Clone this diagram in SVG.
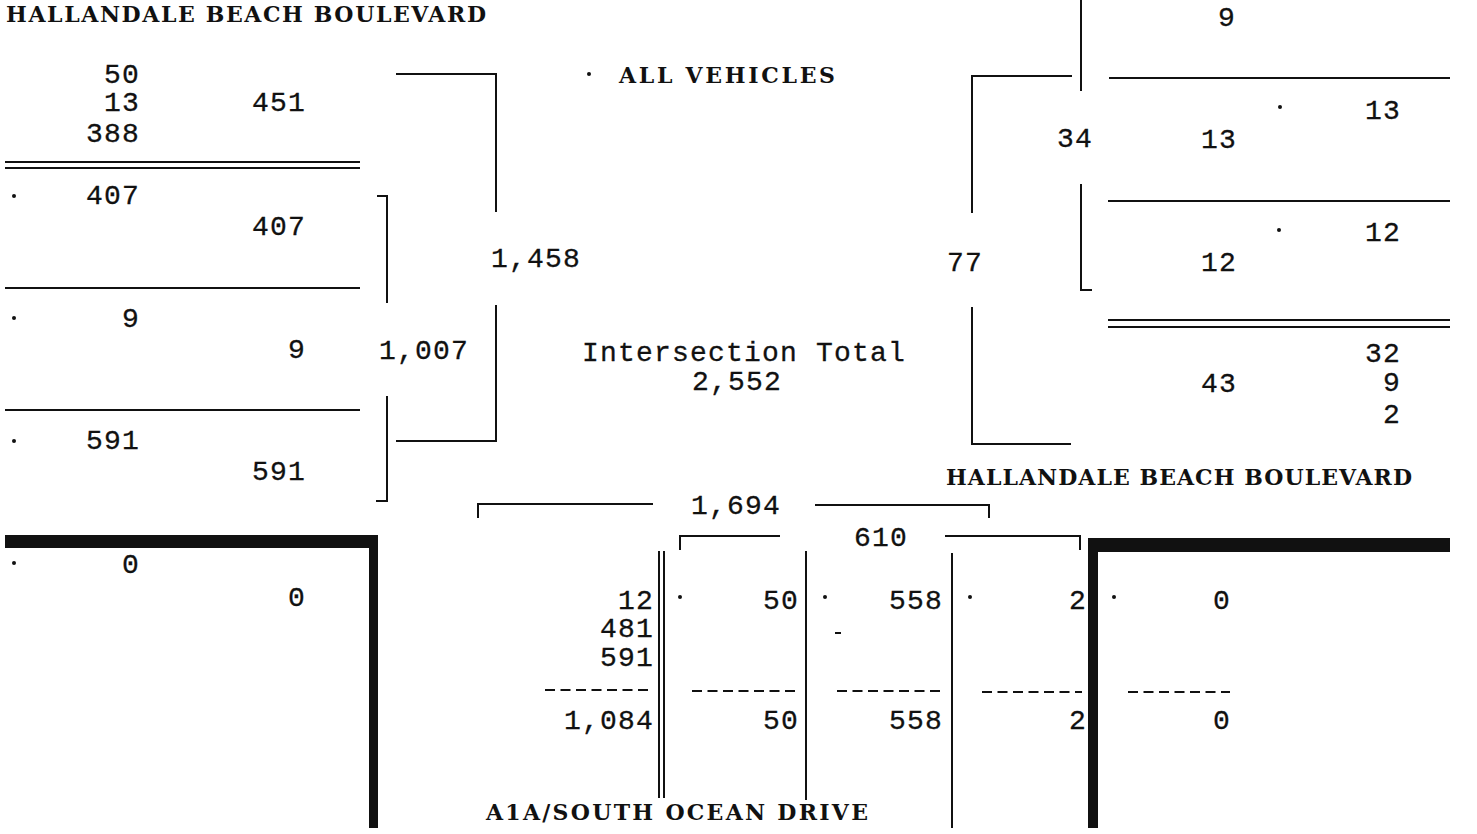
<svg xmlns="http://www.w3.org/2000/svg" width="1477" height="834" viewBox="0 0 1477 834">
<style>
.n{font-family:"Liberation Mono",monospace;font-size:28px;letter-spacing:1.2px;fill:#111;stroke:#111;stroke-width:0.3;text-anchor:end}
.c{font-family:"Liberation Mono",monospace;font-size:28px;letter-spacing:1.2px;fill:#111;stroke:#111;stroke-width:0.3;text-anchor:middle}
.t{font-family:"DejaVu Serif",serif;font-size:22px;font-weight:bold;fill:#111}
.l{fill:none;stroke:#111;stroke-width:2}
.dash{fill:none;stroke:#111;stroke-width:2;stroke-dasharray:10 5.5}
.dot{fill:#111}
.bar{fill:#111}
</style>
<rect width="1477" height="834" fill="#fff"/>
<g id="connectors">
<line class="l" x1="5" y1="162" x2="360" y2="162"/>
<line class="l" x1="5" y1="168" x2="360" y2="168"/>
<line class="l" x1="5" y1="288" x2="360" y2="288"/>
<line class="l" x1="5" y1="410" x2="360" y2="410"/>
<path class="l" d="M377 196H387V303M387 396V501H376"/>
<path class="l" d="M396 74H496V212M496 305V441H396"/>
<rect class="bar" x="5" y="535" width="372" height="13"/>
<rect class="bar" x="369" y="535" width="9" height="293"/>
<path class="l" d="M1081 0V91M1081 184V290H1092"/>
<path class="l" d="M1072 76H972V213M972 307V444H1071"/>
<line class="l" x1="1109" y1="78" x2="1450" y2="78"/>
<line class="l" x1="1108" y1="201" x2="1450" y2="201"/>
<line class="l" x1="1108" y1="320" x2="1450" y2="320"/>
<line class="l" x1="1108" y1="327" x2="1450" y2="327"/>
<rect class="bar" x="1088" y="538" width="362" height="14"/>
<rect class="bar" x="1088" y="538" width="10" height="290"/>
<path class="l" d="M478 518V504H653M815 505H989V518"/>
<path class="l" d="M680 550V536H780M945 536H1080V550"/>
<line class="l" x1="659" y1="551" x2="659" y2="798"/>
<line class="l" x1="664" y1="551" x2="664" y2="798"/>
<line class="l" x1="806" y1="551" x2="806" y2="800"/>
<line class="l" x1="952" y1="553" x2="952" y2="828"/>
<line class="dash" x1="545" y1="690" x2="650" y2="690"/>
<line class="dash" x1="692" y1="691" x2="797" y2="691"/>
<line class="dash" x1="837" y1="691" x2="942" y2="691"/>
<line class="dash" x1="982" y1="692" x2="1082" y2="692"/>
<line class="dash" x1="1128" y1="692" x2="1230" y2="692"/>
<line class="l" x1="835" y1="633" x2="841" y2="633"/>
</g>
<g id="title-west">
<text class="t" x="6" y="22" textLength="480" lengthAdjust="spacing">HALLANDALE BEACH BOULEVARD</text>
</g>
<g id="title-all-vehicles">
<circle class="dot" cx="589" cy="74" r="2"/>
<text class="t" x="619" y="83" textLength="216" lengthAdjust="spacing">ALL VEHICLES</text>
</g>
<g id="title-east">
<text class="t" x="946" y="485" textLength="466" lengthAdjust="spacing">HALLANDALE BEACH BOULEVARD</text>
</g>
<g id="title-south">
<text class="t" x="486" y="820" textLength="382" lengthAdjust="spacing">A1A/SOUTH OCEAN DRIVE</text>
</g>
<g id="west-approach">
<text class="n" x="140" y="83">50</text>
<text class="n" x="140" y="111">13</text>
<text class="n" x="140" y="142">388</text>
<text class="n" x="306" y="111">451</text>
<circle class="dot" cx="14" cy="196" r="2"/>
<text class="n" x="140" y="204">407</text>
<text class="n" x="306" y="235">407</text>
<circle class="dot" cx="14" cy="318" r="2"/>
<text class="n" x="140" y="327">9</text>
<text class="n" x="306" y="358">9</text>
<text class="n" x="469" y="359">1,007</text>
<circle class="dot" cx="14" cy="441" r="2"/>
<text class="n" x="140" y="449">591</text>
<text class="n" x="306" y="480">591</text>
<circle class="dot" cx="14" cy="563" r="2"/>
<text class="n" x="140" y="573">0</text>
<text class="n" x="306" y="606">0</text>
<text class="n" x="581" y="267">1,458</text>
</g>
<g id="intersection-total">
<text class="c" x="744" y="361">Intersection Total</text>
<text class="c" x="737" y="390">2,552</text>
</g>
<g id="east-approach">
<text class="n" x="983" y="271">77</text>
<text class="n" x="1093" y="147">34</text>
<text class="n" x="1236" y="26">9</text>
<circle class="dot" cx="1280" cy="107" r="2"/>
<text class="n" x="1401" y="119">13</text>
<text class="n" x="1237" y="148">13</text>
<circle class="dot" cx="1279" cy="230" r="2"/>
<text class="n" x="1401" y="241">12</text>
<text class="n" x="1237" y="271">12</text>
<text class="n" x="1401" y="362">32</text>
<text class="n" x="1401" y="391">9</text>
<text class="n" x="1401" y="423">2</text>
<text class="n" x="1237" y="392">43</text>
</g>
<g id="south-approach">
<text class="c" x="736" y="514">1,694</text>
<text class="c" x="881" y="546">610</text>
<text class="n" x="654" y="609">12</text>
<text class="n" x="654" y="637">481</text>
<text class="n" x="654" y="666">591</text>
<text class="n" x="654" y="729">1,084</text>
<circle class="dot" cx="680" cy="597" r="2"/>
<text class="n" x="799" y="609">50</text>
<text class="n" x="799" y="729">50</text>
<circle class="dot" cx="825" cy="597" r="2"/>
<text class="n" x="943" y="609">558</text>
<text class="n" x="943" y="729">558</text>
<circle class="dot" cx="970" cy="597" r="2"/>
<text class="n" x="1087" y="609">2</text>
<text class="n" x="1087" y="729">2</text>
<circle class="dot" cx="1114" cy="597" r="2"/>
<text class="n" x="1231" y="609">0</text>
<text class="n" x="1231" y="729">0</text>
</g>
</svg>
